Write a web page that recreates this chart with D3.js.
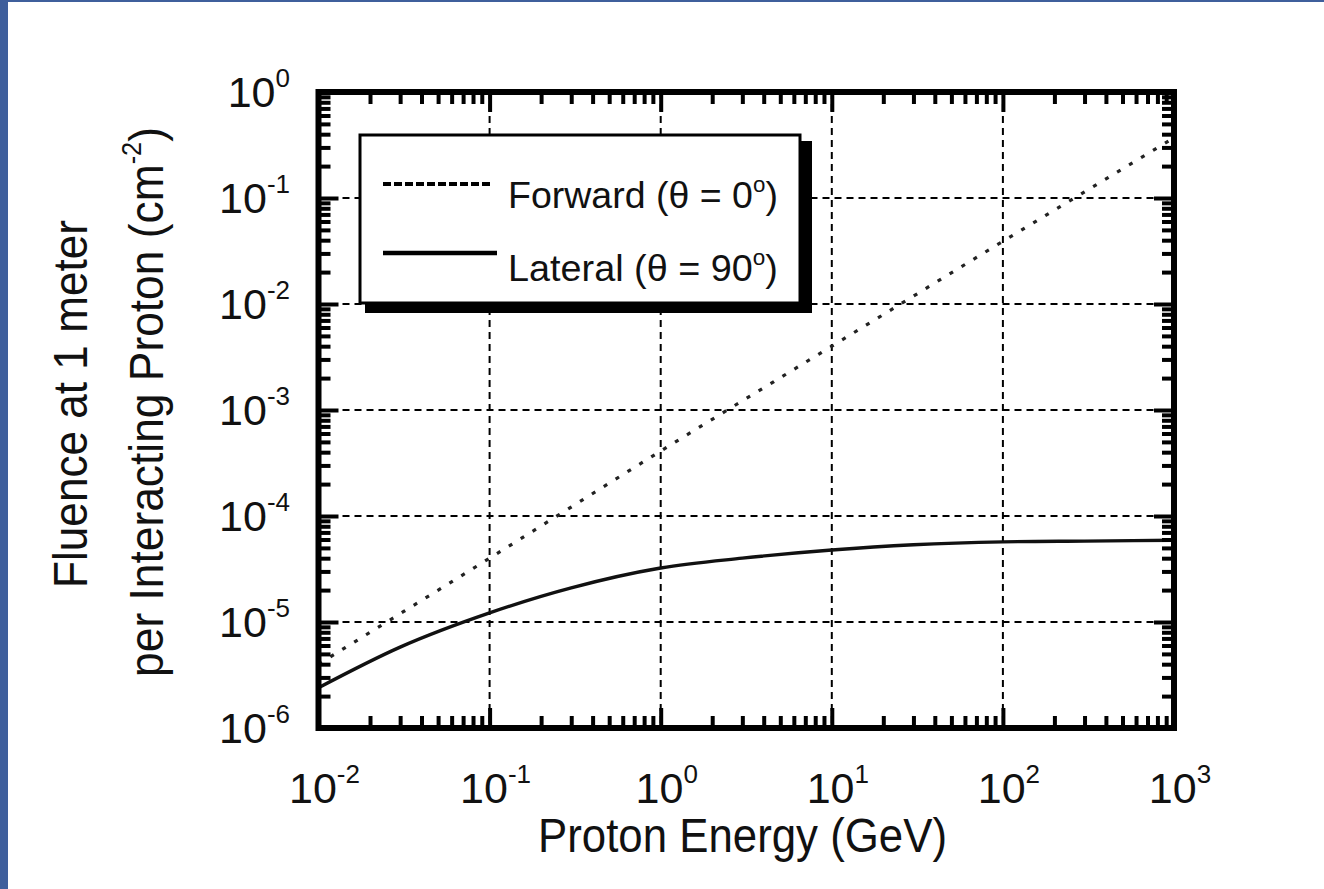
<!DOCTYPE html>
<html>
<head>
<meta charset="utf-8">
<script src="https://cdn.jsdelivr.net/npm/d3@7"></script>
<style>
html, body { margin: 0; padding: 0; background: #fff; }
svg { display: block; }
text { font-family: "Liberation Sans", Arial, Helvetica, sans-serif; fill: #111; }
</style>
</head>
<body>
<svg id="chart"></svg>
<script>
// data
var lateralEnergy = [0.01, 0.03, 0.1, 0.3, 1, 3, 10, 30, 100, 300, 1000];
var lateral = [2.4e-6, 5.8e-6, 1.22e-5, 2.1e-5, 3.23e-5, 4.0e-5, 4.78e-5, 5.35e-5, 5.7e-5, 5.8e-5, 5.9e-5];
var forwardEnergy = [0.01, 0.1, 1, 10, 100, 1000];
var forward = [4.0e-6, 4.0e-5, 4.1e-4, 4.0e-3, 3.9e-2, 0.37];
var xTickExp = [-2, -1, 0, 1, 2, 3];
var yTickExp = [0, -1, -2, -3, -4, -5, -6];
var legendNames = ['Forward', 'Lateral'];
var legendAngles = ['0', '90'];
var xTitle = 'Proton Energy (GeV)';
var yTitle1 = 'Fluence at 1 meter';
var yTitle2 = 'per Interacting Proton (cm';

var W = 1324, H = 889;
var blue = '#3f5f9c';

var svg = d3.select('#chart').attr('width', W).attr('height', H);
svg.append('rect').attr('width', W).attr('height', H).attr('fill', '#fff');
svg.append('rect').attr('width', 8).attr('height', H).attr('fill', blue);
svg.append('rect').attr('width', W).attr('height', 2).attr('fill', blue);

var pLeft = 318.5, pRight = 1174, pTop = 92, pBottom = 728;
var x = d3.scaleLog().domain([1e-2, 1e3]).range([pLeft, pRight]);
var y = d3.scaleLog().domain([1e-6, 1]).range([pBottom, pTop]);

var xMajor = xTickExp.map(function(e) { return Math.pow(10, e); });
var yMajor = yTickExp.map(function(e) { return Math.pow(10, e); });
function isPow10(v) { var l = Math.log10(v); return Math.abs(l - Math.round(l)) < 1e-9; }
var xMinor = x.ticks().filter(function(v) { return !isPow10(v); });
var yMinor = y.ticks().filter(function(v) { return !isPow10(v); });

// grid
var grid = svg.append('g').attr('stroke', '#000').attr('stroke-width', 2).attr('stroke-dasharray', '7,5');
grid.selectAll('.vg').data(xMajor.slice(1, -1)).enter().append('line')
  .attr('x1', function(d) { return x(d); }).attr('x2', function(d) { return x(d); })
  .attr('y1', pTop).attr('y2', pBottom);
grid.selectAll('.hg').data(yMajor.slice(1, -1)).enter().append('line')
  .attr('y1', function(d) { return y(d); }).attr('y2', function(d) { return y(d); })
  .attr('x1', pLeft).attr('x2', pRight);

// curves
var line = d3.line()
  .x(function(d) { return x(d[0]); })
  .y(function(d) { return y(d[1]); })
  .curve(d3.curveMonotoneX);

svg.append('path')
  .datum(forwardEnergy.map(function(e, i) { return [e, forward[i]]; }))
  .attr('d', line).attr('fill', 'none').attr('stroke', '#222')
  .attr('stroke-width', 3.2).attr('stroke-dasharray', '4,10');

svg.append('path')
  .datum(lateralEnergy.map(function(e, i) { return [e, lateral[i]]; }))
  .attr('d', line).attr('fill', 'none').attr('stroke', '#111')
  .attr('stroke-width', 3.4);

// ticks on all four sides, pointing inward
function drawAxis(axis, tx, ty) {
  var g = svg.append('g').attr('transform', 'translate(' + tx + ',' + ty + ')').call(axis);
  g.select('.domain').remove();
  g.selectAll('.tick text').remove();
  g.selectAll('.tick line').attr('stroke', '#000').attr('stroke-width', 4);
}
[[xMinor, 12], [xMajor, 20]].forEach(function(p) {
  drawAxis(d3.axisBottom(x).tickValues(p[0]).tickSize(-p[1]), 0, pBottom);
  drawAxis(d3.axisTop(x).tickValues(p[0]).tickSize(-p[1]), 0, pTop);
});
[[yMinor, 12], [yMajor, 20]].forEach(function(p) {
  drawAxis(d3.axisLeft(y).tickValues(p[0]).tickSize(-p[1]), pLeft, 0);
  drawAxis(d3.axisRight(y).tickValues(p[0]).tickSize(-p[1]), pRight, 0);
});

// frame
svg.append('rect').attr('x', pLeft).attr('y', pTop)
  .attr('width', pRight - pLeft).attr('height', pBottom - pTop)
  .attr('fill', 'none').attr('stroke', '#000').attr('stroke-width', 6);

// tick labels
function powLabel(g, e) {
  g.append('tspan').text('10');
  g.append('tspan').attr('dy', -20).attr('font-size', 26).text(String(e));
}
xTickExp.forEach(function(e, i) {
  var t = svg.append('text').attr('x', x(xMajor[i]) + 6).attr('y', 803)
    .attr('text-anchor', 'middle').attr('font-size', 43);
  powLabel(t, e);
});
yTickExp.forEach(function(e, i) {
  var t = svg.append('text').attr('x', 290).attr('y', y(yMajor[i]) + 15)
    .attr('text-anchor', 'end').attr('font-size', 43);
  powLabel(t, e);
});

// squeeze text horizontally to the width seen in the picture
function fit(t, width) {
  var w = t.node().getComputedTextLength();
  t.attr('transform', 'scale(' + (width / w) + ',1)');
}

var xt = svg.append('g').attr('transform', 'translate(742.5,852)')
  .append('text').attr('text-anchor', 'middle').attr('font-size', 49).text(xTitle);
fit(xt, 409);

var y1 = svg.append('g').attr('transform', 'translate(87,404) rotate(-90)')
  .append('text').attr('text-anchor', 'middle').attr('font-size', 49).text(yTitle1);
fit(y1, 368);

var y2 = svg.append('g').attr('transform', 'translate(163,402) rotate(-90)')
  .append('text').attr('text-anchor', 'middle').attr('font-size', 49);
y2.append('tspan').text(yTitle2);
y2.append('tspan').attr('dy', -22).attr('font-size', 28).text('-2');
y2.append('tspan').attr('dy', 22).text(')');
fit(y2, 550);

// legend
var lg = svg.append('g');
lg.append('rect').attr('x', 365).attr('y', 141).attr('width', 447).attr('height', 172).attr('fill', '#000');
lg.append('rect').attr('x', 360).attr('y', 135).attr('width', 440).attr('height', 168)
  .attr('fill', '#fff').attr('stroke', '#000').attr('stroke-width', 3);

var sampleY = [184, 253];
var textY = [208, 281];
lg.append('line').attr('x1', 383).attr('x2', 493).attr('y1', sampleY[0]).attr('y2', sampleY[0])
  .attr('stroke', '#000').attr('stroke-width', 4).attr('stroke-dasharray', '8,3');
lg.append('line').attr('x1', 383).attr('x2', 497).attr('y1', sampleY[1]).attr('y2', sampleY[1])
  .attr('stroke', '#000').attr('stroke-width', 4.5);

legendNames.forEach(function(name, i) {
  var t = lg.append('g').attr('transform', 'translate(508,' + textY[i] + ')')
    .append('text').attr('font-size', 37);
  t.append('tspan').text(name + ' (\u03b8 = ' + legendAngles[i]);
  t.append('tspan').attr('dy', -16).attr('font-size', 22).text('o');
  t.append('tspan').attr('dy', 16).text(')');
  fit(t, 270);
});
</script>
</body>
</html>
